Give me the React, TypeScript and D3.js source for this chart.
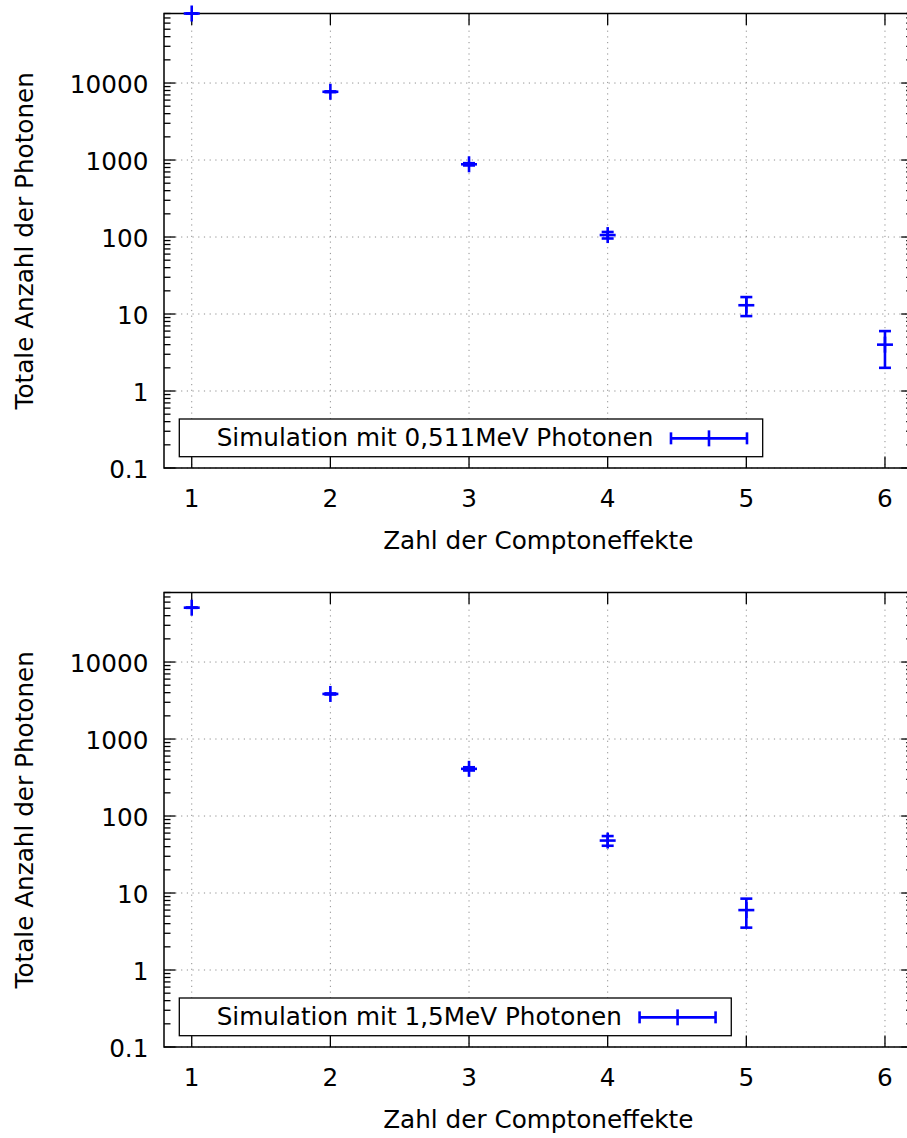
import React from "react";
import * as d3 from "d3";

// ---- data ----
const xCategories = [1, 2, 3, 4, 5, 6];
const counts511 = [80000, 7700, 880, 106, 13, 4];
const errors511 = [283, 88, 30, 10.3, 3.6, 2];
const counts15 = [50800, 3850, 410, 48, 6];
const errors15 = [225, 62, 20, 6.9, 2.45];
const yTickValues = [0.1, 1, 10, 100, 1000, 10000];
const yTickLabels = ["0.1", "1", "10", "100", "1000", "10000"];
const xTickValues = [1, 2, 3, 4, 5, 6];
const xTickLabels = ["1", "2", "3", "4", "5", "6"];
const yMinorTicks: number[] = [];
yTickValues.forEach((d) => {
  for (let k = 2; k <= 9; k++) yMinorTicks.push(d * k);
});
const xDomain: [number, number] = [0.8, 6.2];
const yDomain: [number, number] = [0.1, 80000];
const legend511 = "Simulation mit 0,511MeV Photonen";
const legend15 = "Simulation mit 1,5MeV Photonen";
const xAxisTitle = "Zahl der Comptoneffekte";
const yAxisTitle = "Totale Anzahl der Photonen";

const FONT = "DejaVu Sans";
const FS = 24.7;
const BLUE = "#0000ff";

function measure(s: string): number {
  const c = document.createElement("canvas");
  const ctx = c.getContext("2d");
  if (!ctx) return s.length * FS * 0.55;
  ctx.font = `${FS}px "${FONT}"`;
  return ctx.measureText(s).width;
}

type PanelProps = {
  top: number;
  counts: number[];
  errors: number[];
  legend: string;
};

function Panel({ top, counts, errors, legend }: PanelProps) {
  const left = 164;
  const right = 912.7;
  const bottom = top + 454.5;
  const x = d3.scaleLinear().domain(xDomain).range([left, right]);
  const y = d3.scaleLog().domain(yDomain).range([bottom, top]);
  const major = 11.5;
  const minor = 6.5;
  const sw = 2.6;
  const plus = 8;
  const cap = 6;

  const textX = left + 52.7;
  const tw = measure(legend);
  const sampleStart = textX + tw + 17.7;
  const sampleEnd = sampleStart + 76;
  const boxL = left + 15.3;
  const boxR = sampleEnd + 15.7;
  const boxT = bottom - 49;
  const boxB = bottom - 11.3;
  const sy = (boxT + boxB) / 2 + 0.5;

  const pts = counts.map((v, i) => ({ x: xCategories[i], v, e: errors[i] }));

  return (
    <g>
      {/* grid */}
      <g stroke="#8f8f8f" strokeWidth={1} strokeDasharray="1.2,4.5">
        {yTickValues.map((t) => (
          <line key={"gy" + t} x1={left} x2={right} y1={y(t)} y2={y(t)} />
        ))}
        {xTickValues.map((t) => (
          <line key={"gx" + t} x1={x(t)} x2={x(t)} y1={top} y2={bottom} />
        ))}
      </g>
      {/* ticks */}
      <g stroke="#000" strokeWidth={1.3}>
        {yTickValues.map((t) => (
          <g key={"ty" + t}>
            <line x1={left} x2={left + major} y1={y(t)} y2={y(t)} />
            <line x1={right} x2={right - major} y1={y(t)} y2={y(t)} />
          </g>
        ))}
        {yMinorTicks
          .filter((t) => t <= yDomain[1])
          .map((t) => (
            <g key={"tm" + t}>
              <line x1={left} x2={left + minor} y1={y(t)} y2={y(t)} />
              <line x1={right} x2={right - minor} y1={y(t)} y2={y(t)} />
            </g>
          ))}
        {xTickValues.map((t) => (
          <g key={"tx" + t}>
            <line x1={x(t)} x2={x(t)} y1={bottom} y2={bottom - major} />
            <line x1={x(t)} x2={x(t)} y1={top} y2={top + major} />
          </g>
        ))}
      </g>
      {/* border */}
      <rect x={left} y={top} width={right - left} height={bottom - top} fill="none" stroke="#000" strokeWidth={1.5} />
      {/* tick labels */}
      <g fontFamily={FONT} fontSize={FS} fill="#000">
        {yTickValues.map((t, i) => (
          <text key={"ly" + t} x={left - 15.6} y={y(t) + 9.5} textAnchor="end">
            {yTickLabels[i]}
          </text>
        ))}
        {xTickValues.map((t, i) => (
          <text key={"lx" + t} x={x(t)} y={bottom + 38.7} textAnchor="middle">
            {xTickLabels[i]}
          </text>
        ))}
        <text x={(left + right) / 2} y={bottom + 81.3} textAnchor="middle">
          {xAxisTitle}
        </text>
        <text transform={`translate(33,${(top + bottom) / 2}) rotate(-90)`} textAnchor="middle">
          {yAxisTitle}
        </text>
      </g>
      {/* data */}
      <g stroke={BLUE} strokeWidth={sw} fill="none">
        {pts.map((p) => {
          const cx = x(p.x);
          const cy = y(p.v);
          const y1 = y(p.v + p.e);
          const y2 = y(Math.max(p.v - p.e, yDomain[0]));
          return (
            <g key={"p" + p.x}>
              <line x1={cx} x2={cx} y1={y1} y2={y2} />
              <line x1={cx - cap} x2={cx + cap} y1={y1} y2={y1} />
              <line x1={cx - cap} x2={cx + cap} y1={y2} y2={y2} />
              <line x1={cx - plus} x2={cx + plus} y1={cy} y2={cy} />
              <line x1={cx} x2={cx} y1={cy - plus} y2={cy + plus} />
            </g>
          );
        })}
      </g>
      {/* legend */}
      <rect x={boxL} y={boxT} width={boxR - boxL} height={boxB - boxT} fill="#fff" stroke="#000" strokeWidth={1.3} />
      <text x={textX} y={sy + 8} fontFamily={FONT} fontSize={FS} fill="#000">
        {legend}
      </text>
      <g stroke={BLUE} strokeWidth={sw}>
        <line x1={sampleStart} x2={sampleEnd} y1={sy} y2={sy} />
        <line x1={sampleStart} x2={sampleStart} y1={sy - cap} y2={sy + cap} />
        <line x1={sampleEnd} x2={sampleEnd} y1={sy - cap} y2={sy + cap} />
        <line x1={(sampleStart + sampleEnd) / 2} x2={(sampleStart + sampleEnd) / 2} y1={sy - plus} y2={sy + plus} />
      </g>
    </g>
  );
}

export default function App() {
  return (
    <div style={{ position: "absolute", left: 0, top: 0 }}>
      <svg width={907} height={1138} style={{ display: "block", background: "#fff" }}>
        <rect width={907} height={1138} fill="#fff" />
        <Panel top={13.5} counts={counts511} errors={errors511} legend={legend511} />
        <Panel top={592.5} counts={counts15} errors={errors15} legend={legend15} />
      </svg>
    </div>
  );
}
